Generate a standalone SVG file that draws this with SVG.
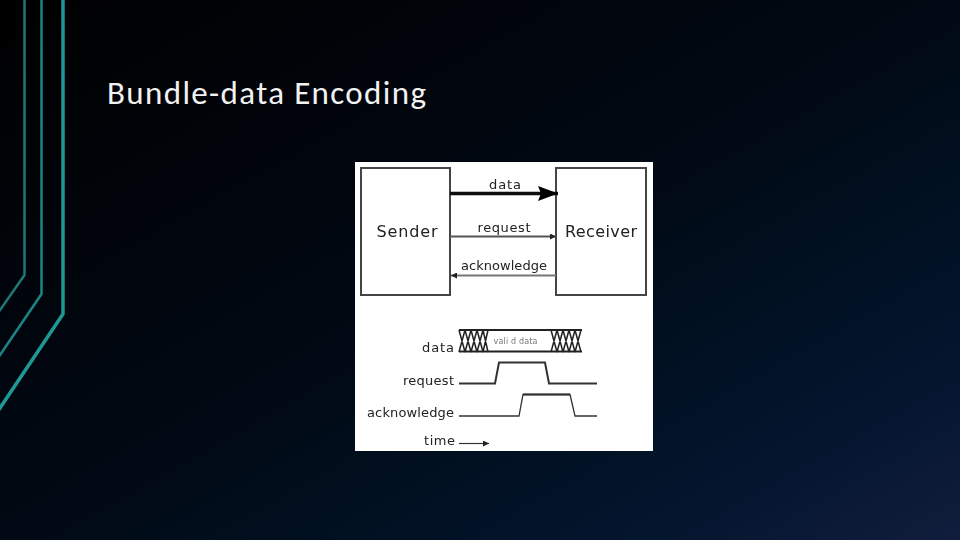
<svg xmlns="http://www.w3.org/2000/svg" width="960" height="540" viewBox="0 0 960 540">
<defs>
<linearGradient id="bg" x1="0" y1="0" x2="1" y2="1">
<stop offset="0" stop-color="#000000"/><stop offset="0.25" stop-color="#01040a"/><stop offset="0.5" stop-color="#010914"/><stop offset="0.66" stop-color="#011020"/><stop offset="0.83" stop-color="#04152e"/><stop offset="1" stop-color="#111d3c"/>
</linearGradient>
<filter id="soft" x="-5%" y="-5%" width="110%" height="110%"><feGaussianBlur stdDeviation="0.45"/></filter>
<marker id="big" markerUnits="userSpaceOnUse" markerWidth="22" markerHeight="18" refX="20" refY="9" orient="auto"><path d="M0 1.500L20 9L0 16.500L3 9Z" fill="#000"/></marker>
<marker id="small" markerUnits="userSpaceOnUse" markerWidth="8" markerHeight="6" refX="6" refY="3" orient="auto"><path d="M0 0L6 3L0 6Z" fill="#222"/></marker>
</defs>
<style>
.t{font-family:"DejaVu Sans",sans-serif;fill:#222}
.box{fill:#fff;stroke:#444;stroke-width:2}
.w{fill:none;stroke:#333}
.x{fill:none;stroke:#222;stroke-width:1.500}
</style>
<rect id="background" width="960" height="540" fill="url(#bg)"/>
<g id="decor" fill="none" stroke-linejoin="miter">
<path d="M24.500 0V275L-2 313" stroke="#1b7a78" stroke-width="2.500"/>
<path d="M41.500 0V294L-2 358" stroke="#1c8583" stroke-width="2.500"/>
<path d="M63 0V314L-2 411" stroke="#1f9895" stroke-width="3.500"/>
</g>
<text id="title" x="107" y="104" font-family="Carlito,'Open Sans','Liberation Sans',sans-serif" font-size="33" fill="#f2f2f2" textLength="319" lengthAdjust="spacing">Bundle-data Encoding</text>
<rect id="panel" x="355" y="162" width="298" height="289" fill="#fff"/>
<g filter="url(#soft)">
<g id="sender"><rect class="box" x="361" y="168" width="89" height="127"/><text class="t" x="407" y="237" font-size="16" text-anchor="middle" textLength="61" lengthAdjust="spacing">Sender</text></g>
<g id="receiver"><rect class="box" x="556" y="168" width="90" height="127"/><text class="t" x="601" y="237" font-size="16" text-anchor="middle" textLength="72" lengthAdjust="spacing">Receiver</text></g>
<g id="connectors">
<path d="M450 193.500H558" stroke="#111" stroke-width="3.500" marker-end="url(#big)"/>
<path d="M450 236.500H556" stroke="#555" stroke-width="2" marker-end="url(#small)"/>
<path d="M556 275.500H451" stroke="#777" stroke-width="2" marker-end="url(#small)"/>
</g>
<g id="labels">
<text class="t" x="505" y="189" font-size="13" text-anchor="middle" textLength="32" lengthAdjust="spacing">data</text>
<text class="t" x="504" y="232" font-size="13" text-anchor="middle" textLength="53" lengthAdjust="spacing">request</text>
<text class="t" x="504" y="270" font-size="13" text-anchor="middle" textLength="86" lengthAdjust="spacing">acknowledge</text>
<text class="t" x="454" y="352" font-size="13" text-anchor="end" textLength="32" lengthAdjust="spacing">data</text>
<text class="t" x="454" y="385" font-size="13" text-anchor="end" textLength="51" lengthAdjust="spacing">request</text>
<text class="t" x="454" y="417" font-size="13" text-anchor="end" textLength="87" lengthAdjust="spacing">acknowledge</text>
<text class="t" x="455" y="445" font-size="13" text-anchor="end" textLength="31" lengthAdjust="spacing">time</text>
<text x="515.500" y="344" font-family="DejaVu Sans,sans-serif" font-size="8" fill="#777" text-anchor="middle" textLength="44" lengthAdjust="spacing">vali d data</text>
</g>
<g id="timing">
<path d="M459 330H582M459 351.500H582" stroke="#222" stroke-width="1.800" fill="none"/>
<path class="x" d="M459 330L465 352M465 330L459 352M465 330L471 352M471 330L465 352M471 330L477 352M477 330L471 352M477 330L483 352M483 330L477 352M483 330L488 352M488 330L483 352M551 330L557 352M557 330L551 352M557 330L563 352M563 330L557 352M563 330L569 352M569 330L563 352M569 330L575 352M575 330L569 352M575 330L581 352M581 330L575 352"/>
<path class="w" stroke-width="2" d="M459 383.500H495L499 362.500H545L549 383.500H597"/>
<path class="w" stroke-width="1.300" d="M459 416H519L523 394.500H570L575 416H597"/>
<path d="M523 394.500H570" stroke="#333" stroke-width="1.800"/>
<path d="M459 443.500H489" stroke="#333" stroke-width="1.200" marker-end="url(#small)"/>
</g>
</g>
</svg>
